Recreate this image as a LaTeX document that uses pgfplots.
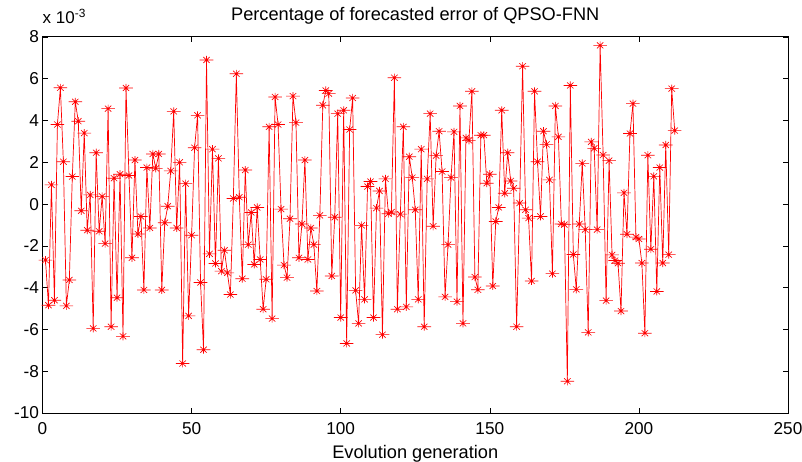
\documentclass[border=0pt]{standalone}
\usepackage{pgfplots}
\pgfplotsset{compat=1.18}
\usepackage{fontspec}
\setmainfont{Liberation Sans}
\pgfdeclareplotmark{mstar}{%
 \pgfpathmoveto{\pgfqpoint{-1.7\pgfplotmarksize}{0pt}}\pgfpathlineto{\pgfqpoint{1.7\pgfplotmarksize}{0pt}}%
 \pgfpathmoveto{\pgfqpoint{0pt}{-\pgfplotmarksize}}\pgfpathlineto{\pgfqpoint{0pt}{\pgfplotmarksize}}%
 \pgfpathmoveto{\pgfqpoint{-0.8\pgfplotmarksize}{-0.75\pgfplotmarksize}}\pgfpathlineto{\pgfqpoint{0.8\pgfplotmarksize}{0.75\pgfplotmarksize}}%
 \pgfpathmoveto{\pgfqpoint{-0.8\pgfplotmarksize}{0.75\pgfplotmarksize}}\pgfpathlineto{\pgfqpoint{0.8\pgfplotmarksize}{-0.75\pgfplotmarksize}}%
 \pgfusepathqstroke}
\pgfplotstableread{
x y
1 -2.68
2 -4.84
3 0.92
4 -4.60
5 3.81
6 5.57
7 2.03
8 -4.87
9 -3.63
10 1.32
11 4.90
12 3.97
13 -0.32
14 3.40
15 -1.25
16 0.44
17 -5.95
18 2.46
19 -1.30
20 0.37
21 -1.89
22 4.57
23 -5.87
24 1.24
25 -4.48
26 1.43
27 -6.33
28 5.56
29 1.37
30 -2.57
31 2.11
32 -1.43
33 -0.59
34 -4.11
35 1.75
36 -1.14
37 2.40
38 1.71
39 2.40
40 -4.11
41 -0.89
42 -0.10
43 1.59
44 4.44
45 -1.14
46 2.00
47 -7.63
48 0.98
49 -5.35
50 -1.49
51 2.70
52 4.25
53 -3.75
54 -6.97
55 6.90
56 -2.38
57 2.63
58 -2.84
59 2.19
60 -3.21
61 -2.21
62 -3.29
63 -4.33
64 0.27
65 6.24
66 0.33
67 -3.57
68 1.63
69 -1.94
70 -0.40
71 -2.89
72 -0.16
73 -2.65
74 -5.03
75 -3.60
76 3.70
77 -5.48
78 5.13
79 3.81
80 -0.24
81 -2.92
82 -3.52
83 -0.70
84 5.17
85 3.90
86 -2.57
87 -0.95
88 2.11
89 -2.65
90 -1.14
91 -1.94
92 -4.16
93 -0.54
94 4.73
95 5.44
96 5.29
97 -3.44
98 -0.63
99 4.33
100 -5.43
101 4.49
102 -6.67
103 3.57
104 5.08
105 -4.13
106 -5.71
107 -1.02
108 -4.56
109 0.84
110 1.08
111 -5.43
112 -0.19
113 0.63
114 -6.25
115 1.21
116 -0.46
117 -0.38
118 6.05
119 -5.03
120 -0.48
121 3.70
122 -4.92
123 2.27
124 1.27
125 -0.27
126 -4.56
127 2.63
128 -5.87
129 1.21
130 4.33
131 -1.06
132 2.32
133 3.49
134 1.56
135 -4.44
136 -1.94
137 1.27
138 3.46
139 -4.67
140 4.70
141 -5.71
142 3.17
143 3.05
144 5.40
145 -3.49
146 -4.10
147 3.30
148 3.30
149 1.00
150 1.43
151 -3.92
152 -0.83
153 -0.16
154 4.49
155 0.52
156 2.46
157 1.11
158 0.76
159 -5.87
160 0.05
161 6.60
162 -0.27
163 -0.67
164 -3.68
165 5.40
166 2.03
167 -0.59
168 3.49
169 2.86
170 1.16
171 -3.33
172 4.70
173 3.22
174 -0.95
175 -0.98
176 -8.48
177 5.68
178 -2.41
179 -4.08
180 -0.95
181 1.95
182 -1.22
183 -6.14
184 2.98
185 2.67
186 -1.22
187 7.60
188 2.35
189 -4.62
190 2.08
191 -2.43
192 -2.70
193 -2.83
194 -5.12
195 0.54
196 -1.44
197 3.38
198 4.81
199 -1.58
200 -1.67
201 -2.82
202 -6.18
203 2.34
204 -2.16
205 1.33
206 -4.18
207 1.75
208 -2.82
209 2.83
210 -2.42
211 5.53
212 3.52
}\errdata
\begin{document}
\begin{tikzpicture}
\begin{axis}[
  scale only axis,
  width=745.5pt, height=376pt,
  xmin=0, xmax=250, ymin=-10, ymax=8,
  xtick={0,50,100,150,200,250},
  ytick={-10,-8,-6,-4,-2,0,2,4,6,8},
  tick align=inside,
  major tick length=5pt,
  axis line style={line width=1pt},
  tick style={line width=0.6pt, black},
  /pgf/number format/assume math mode=true,
  ticklabel style={font=\fontsize{17.2}{19}\selectfont},
  xticklabel style={anchor=base, yshift=-21.5pt},
  yticklabel style={xshift=0pt},
  title={Percentage of forecasted error of QPSO-FNN},
  title style={font=\fontsize{18.2}{20}\selectfont, at={(0.5,1)}, anchor=base, yshift=10pt},
  xlabel={Evolution generation},
  xlabel style={font=\fontsize{18.2}{20}\selectfont, at={(0.5,0)}, anchor=base, yshift=-45pt},
  clip=false,
]
\addplot[color=red, line width=0.7pt, mark=mstar, mark size=4pt, mark options={line width=0.65pt}] table[x=x,y=y] {\errdata};
\coordinate (sw) at (rel axis cs:0,0);
\coordinate (ne) at (rel axis cs:1,1);
\node[anchor=base west, font=\fontsize{17}{19}\selectfont, inner sep=0pt] at ([yshift=13pt]rel axis cs:0,1) {x 10\textsuperscript{-3}};
\end{axis}
\pgfresetboundingbox
\path[use as bounding box] ([xshift=-42.5pt,yshift=-48pt]sw) rectangle ([xshift=14pt,yshift=37pt]ne);
\end{tikzpicture}
\end{document}
